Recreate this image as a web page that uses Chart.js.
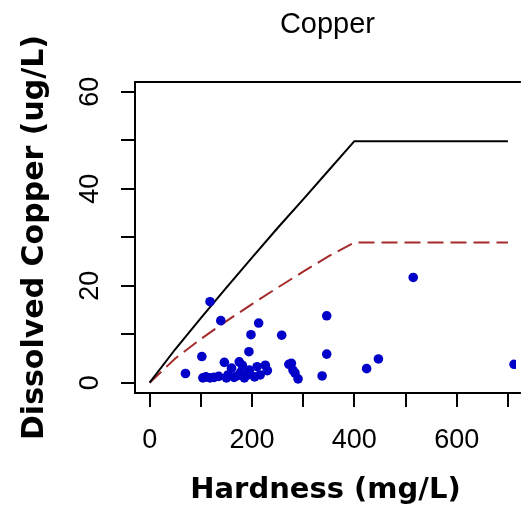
<!DOCTYPE html>
<html>
<head>
<meta charset="utf-8">
<script src="https://cdn.jsdelivr.net/npm/chart.js@4.4.1/dist/chart.umd.min.js"></script>
<style>
  html, body { margin: 0; padding: 0; background: #fff; }
  #wrap { width: 525px; height: 513px; }
</style>
</head>
<body>
<div id="wrap"><canvas id="chart" width="525" height="513"></canvas></div>
<script>
// sampled copper results (hardness mg/L, dissolved copper ug/L)
const hardness = [70, 102, 104, 110, 118, 118, 126, 135, 139, 146, 150, 153, 160, 165, 170,
  175, 178, 181, 185, 190, 194, 195, 198, 205, 210, 213, 216, 226, 230, 258,
  272, 277, 280, 284, 290, 337, 346, 346, 424, 447, 515, 712];
const copper = [1.9, 5.4, 1.0, 1.2, 1.0, 16.7, 1.1, 1.3, 12.8, 4.2, 1.0, 1.6, 3.0, 1.1, 1.4,
  4.3, 2.2, 3.6, 1.0, 1.5, 6.4, 2.6, 9.9, 1.2, 3.3, 12.3, 1.6, 3.6, 2.5, 9.8,
  3.8, 4.0, 2.6, 2.0, 0.8, 1.4, 13.8, 5.9, 2.9, 4.9, 21.7, 3.8];

// criteria lines
const acuteHardness = [0, 50, 100, 150, 200, 250, 300, 350, 400, 700];
const acuteCopper = [0, 6.9, 13.3, 19.6, 25.8, 31.9, 37.8, 43.8, 49.8, 49.8];
const chronicHardness = [0, 50, 100, 150, 200, 250, 300, 350, 400, 700];
const chronicCopper = [0, 5.0, 9.0, 12.7, 16.2, 19.6, 22.9, 26.1, 28.9, 28.9];

const xTickLabels = [0, 200, 400, 600];
const yTickLabels = [0, 20, 40, 60];
const chartTitle = "Copper";

const toPoints = (xs, ys) => xs.map((x, i) => ({ x: x, y: ys[i] }));

// R style box, title over the plot region, rotated y tick labels
const rBox = {
  id: "rBox",
  afterDraw(chart) {
    const { ctx, chartArea: a, scales } = chart;
    ctx.save();
    ctx.strokeStyle = "#000";
    ctx.lineWidth = 2;
    ctx.beginPath();
    ctx.moveTo(a.right + 5, a.top);
    ctx.lineTo(a.left, a.top);
    ctx.lineTo(a.left, a.bottom);
    ctx.lineTo(a.right + 5, a.bottom);
    ctx.stroke();

    ctx.fillStyle = "#000";
    ctx.textAlign = "center";
    ctx.textBaseline = "middle";
    ctx.font = '29px "Liberation Sans", Arial, sans-serif';
    ctx.fillText(chartTitle, (a.left + a.right) / 2 + 2, a.top - 57);

    const y = scales.y;
    ctx.font = '27px "Liberation Sans", Arial, sans-serif';
    y.ticks.forEach((t) => {
      if (!yTickLabels.includes(t.value)) return;
      ctx.save();
      ctx.translate(a.left - 44, y.getPixelForValue(t.value));
      ctx.rotate(-Math.PI / 2);
      ctx.fillText(String(t.value), 0, 0);
      ctx.restore();
    });
    ctx.restore();
  }
};

Chart.defaults.color = "#000";

new Chart(document.getElementById("chart"), {
  type: "scatter",
  data: {
    datasets: [
      {
        label: "Samples",
        data: toPoints(hardness, copper),
        backgroundColor: "#0000c8",
        borderWidth: 0,
        pointRadius: 4.8,
        order: 0
      },
      {
        label: "Acute",
        data: toPoints(acuteHardness, acuteCopper),
        showLine: true,
        borderColor: "#000",
        borderWidth: 2,
        pointRadius: 0,
        order: 1
      },
      {
        label: "Chronic",
        data: toPoints(chronicHardness, chronicCopper),
        showLine: true,
        borderColor: "#a52a2a",
        borderWidth: 2,
        borderDash: [16, 7],
        pointRadius: 0,
        order: 2
      }
    ]
  },
  options: {
    responsive: false,
    animation: false,
    devicePixelRatio: 1,
    layout: { padding: { top: 82, left: 0, right: 0, bottom: 0 } },
    plugins: {
      legend: { display: false },
      tooltip: { enabled: false },
      title: { display: false }
    },
    scales: {
      x: {
        type: "linear",
        min: -28.6,
        max: 715.6,
        border: { display: false },
        grid: { drawOnChartArea: false, color: "#000", lineWidth: 2, tickLength: 14 },
        ticks: {
          stepSize: 100,
          includeBounds: false,
          autoSkip: false,
          maxRotation: 0,
          padding: 17,
          font: { family: '"Liberation Sans", Arial, sans-serif', size: 27 },
          callback: (v) => (xTickLabels.includes(v) ? String(v) : "")
        },
        title: {
          display: true,
          text: "Hardness (mg/L)",
          font: { family: '"DejaVu Sans", sans-serif', size: 29, weight: "bold" },
          padding: { top: 0, bottom: 5 }
        },
        afterFit: (s) => { s.height = 120; }
      },
      y: {
        type: "linear",
        min: -2.12,
        max: 62.0,
        border: { display: false },
        grid: { drawOnChartArea: false, color: "#000", lineWidth: 2, tickLength: 14 },
        ticks: {
          stepSize: 10,
          includeBounds: false,
          display: false
        },
        title: {
          display: true,
          text: "Dissolved Copper (ug/L)",
          font: { family: '"DejaVu Sans", sans-serif', size: 30, weight: "bold" },
          padding: { top: 17, bottom: 0 }
        },
        afterFit: (s) => { s.width = 135; }
      }
    }
  },
  plugins: [rBox]
});
</script>
</body>
</html>
